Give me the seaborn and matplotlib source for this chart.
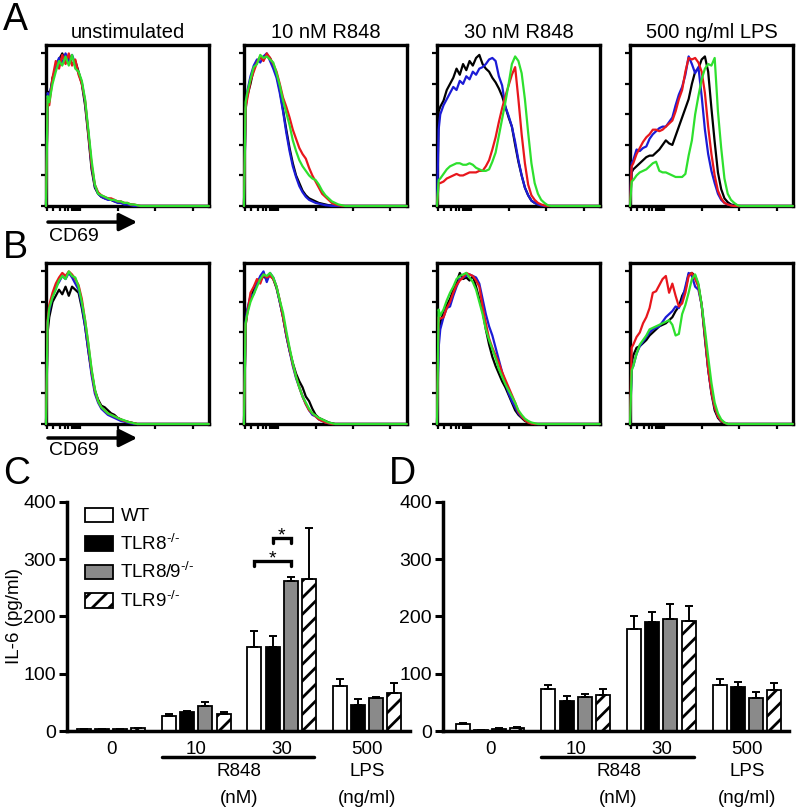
import numpy as np
import pandas as pd
import matplotlib
matplotlib.use('Agg')
import matplotlib.pyplot as plt
import matplotlib.transforms as mtransforms
import seaborn as sns

# ---------------- data ----------------
# histogram channel (0-100 = width of the plot box), values = % of max
CHANNEL = [0, 1, 2, 4, 6, 8, 10, 12, 14, 16,
           18, 20, 22, 24, 26, 28, 30, 32, 34, 36,
           38, 40, 42, 44, 46, 48, 50, 52, 54, 56,
           58, 60, 62, 64, 66, 68, 70, 100]
HIST_TITLES = ['unstimulated', '10 nM R848', '30 nM R848', '500 ng/ml LPS']
LINE_NAMES = ['black', 'blue', 'red', 'green']

# row A
a1_black = [0, 75, 70, 84, 90, 96, 100, 94, 98, 93, 95, 88, 80, 66, 46, 24, 12, 8, 6, 5,
            5, 4, 3, 3, 2, 2, 1, 1, 0.5, 0, 0, 0, 0, 0, 0, 0, 0, 0]
a1_blue = [0, 74, 72, 82, 92, 97, 94, 100, 95, 99, 93, 87, 81, 68, 48, 26, 13, 8, 6, 5,
           4, 4, 3, 2, 2, 1, 1, 0.5, 0, 0, 0, 0, 0, 0, 0, 0, 0, 0]
a1_red = [0, 70, 66, 84, 95, 90, 99, 93, 100, 92, 96, 86, 80, 69, 48, 27, 14, 9, 7, 6,
          5, 5, 4, 3, 3, 2, 2, 1, 1, 0.5, 0, 0, 0, 0, 0, 0, 0, 0]
a1_green = [0, 72, 68, 80, 88, 95, 92, 98, 92, 99, 90, 88, 82, 70, 50, 30, 14, 8, 7, 6,
            5, 4, 4, 3, 3, 2, 2, 1, 1, 0.5, 0, 0, 0, 0, 0, 0, 0, 0]

a2_black = [0, 66, 72, 80, 90, 95, 97, 96, 99, 97, 92, 86, 76, 63, 50, 38, 28, 20, 15, 10,
            7, 5, 4, 3, 2, 1.5, 1, 0.5, 0.3, 0, 0, 0, 0, 0, 0, 0, 0, 0]
a2_blue = [0, 62, 75, 85, 92, 96, 94, 98, 100, 95, 90, 84, 74, 62, 48, 36, 26, 19, 13, 9,
           6, 4, 3, 2, 1.5, 1, 0.5, 0.3, 0, 0, 0, 0, 0, 0, 0, 0, 0, 0]
a2_red = [0, 64, 70, 82, 88, 94, 98, 95, 100, 97, 93, 88, 80, 71, 65, 58, 50, 44, 38, 34,
          31, 25, 20, 16, 12, 8, 6, 4, 2, 1, 0.5, 0, 0, 0, 0, 0, 0, 0]
a2_green = [0, 68, 74, 83, 91, 93, 99, 97, 98, 96, 94, 87, 79, 69, 61, 53, 43, 36, 30, 26,
            23, 20, 18, 17, 14, 10, 7, 5, 3, 2, 1, 0.5, 0, 0, 0, 0, 0, 0]

a3_black = [0, 62, 65, 69, 76, 80, 84, 90, 86, 93, 89, 95, 92, 97, 99, 93, 90, 88, 84, 81,
            77, 72, 65, 58, 52, 40, 29, 20, 12, 7, 3.5, 2, 1, 0.3, 0, 0, 0, 0]
a3_blue = [0, 50, 60, 66, 70, 74, 78, 76, 82, 80, 85, 83, 88, 86, 90, 91, 93, 96, 97, 95,
           85, 79, 65, 59, 52, 42, 30, 20, 12, 7, 3.5, 2, 1, 0.3, 0, 0, 0, 0]
a3_red = [0, 15, 15, 16, 18, 19, 20, 21, 20, 20, 21, 22, 22, 22, 23, 23, 26, 30, 37, 45,
          55, 64, 72, 79, 86, 91, 70, 47, 28, 14, 7, 4, 2, 1, 0.3, 0, 0, 0]
a3_green = [0, 17, 18, 21, 24, 26, 27, 28, 28, 27, 27, 28, 27, 25, 24, 23, 23, 24, 29, 35,
            46, 57, 68, 80, 93, 98, 95, 87, 70, 48, 28, 15, 8, 4, 2, 0.5, 0, 0]

a4_black = [0, 22, 24, 26, 28, 30, 32, 33, 33, 35, 37, 40, 43, 41, 40, 46, 52, 58, 64, 70,
            80, 88, 90, 96, 98, 88, 64, 42, 22, 11, 5, 2.5, 1, 0.5, 0, 0, 0, 0]
a4_blue = [0, 28, 30, 37, 36, 38, 39, 44, 47, 49, 51, 52, 52, 55, 58, 66, 73, 78, 86, 98,
           93, 87, 91, 72, 50, 34, 23, 15, 8, 4, 2, 1, 0.5, 0, 0, 0, 0, 0]
a4_red = [0, 26, 28, 34, 38, 42, 45, 47, 50, 50, 49, 50, 52, 54, 56, 62, 70, 76, 88, 97,
          96, 97, 94, 88, 74, 52, 34, 20, 10, 5, 2, 1, 0.3, 0, 0, 0, 0, 0]
a4_green = [0, 16, 17, 20, 22, 23, 24, 26, 28, 29, 23, 22, 22, 21, 20, 19, 19, 19, 21, 33,
            43, 60, 72, 83, 90, 93, 92, 97, 62, 38, 18, 8, 4, 2, 0.5, 0, 0, 0]

# row B
b1_black = [0, 60, 70, 80, 84, 88, 85, 90, 84, 90, 88, 86, 76, 64, 48, 34, 22, 16, 12, 11,
            9, 7, 6, 4, 3, 2, 1.5, 1, 0.5, 0, 0, 0, 0, 0, 0, 0, 0, 0]
b1_blue = [0, 67, 74, 84, 90, 93, 97, 95, 99, 96, 92, 88, 78, 64, 48, 32, 20, 14, 10, 8,
           6, 5, 4, 3, 2, 1.5, 1, 0.5, 0, 0, 0, 0, 0, 0, 0, 0, 0, 0]
b1_red = [0, 68, 78, 86, 92, 96, 99, 97, 100, 98, 95, 91, 82, 68, 52, 35, 22, 15, 11, 9,
          7, 6, 5, 4, 3, 2, 1.5, 1, 0.5, 0, 0, 0, 0, 0, 0, 0, 0, 0]
b1_green = [0, 66, 76, 83, 88, 94, 97, 95, 100, 97, 96, 90, 80, 68, 53, 36, 23, 15, 11, 9,
            7, 6, 5, 4, 3, 2.5, 1.5, 1, 0.5, 0, 0, 0, 0, 0, 0, 0, 0, 0]

b2_black = [0, 64, 74, 82, 88, 92, 94, 97, 95, 98, 95, 89, 80, 70, 58, 48, 40, 33, 28, 24,
            18, 15, 10, 6, 4, 3, 2, 1, 0.5, 0, 0, 0, 0, 0, 0, 0, 0, 0]
b2_blue = [0, 66, 75, 84, 85, 92, 97, 100, 93, 99, 96, 90, 80, 70, 58, 48, 38, 30, 24, 18,
           13, 9, 6, 5, 3, 2, 1, 0.5, 0, 0, 0, 0, 0, 0, 0, 0, 0, 0]
b2_red = [0, 65, 72, 86, 90, 95, 92, 98, 96, 97, 95, 90, 81, 70, 59, 49, 39, 31, 24, 18,
          13, 9, 7, 5, 3, 2, 1, 0.5, 0, 0, 0, 0, 0, 0, 0, 0, 0, 0]
b2_green = [0, 66, 72, 80, 85, 90, 95, 98, 97, 99, 96, 90, 81, 73, 61, 50, 40, 31, 24, 18,
            14, 10, 7, 5.5, 4, 3, 2, 1, 0.5, 0, 0, 0, 0, 0, 0, 0, 0, 0]

b3_black = [0, 62, 66, 74, 78, 82, 88, 93, 99, 95, 96, 94, 97, 90, 82, 74, 62, 52, 44, 38,
            33, 28, 24, 19, 14, 9, 6, 4, 2, 1, 0.3, 0, 0, 0, 0, 0, 0, 0]
b3_blue = [0, 50, 62, 70, 76, 77, 84, 90, 95, 96, 97, 98, 97, 96, 92, 82, 72, 64, 58, 50,
           42, 34, 27, 20, 15, 11, 7, 4.5, 3, 1.5, 0.5, 0, 0, 0, 0, 0, 0, 0]
b3_red = [0, 70, 69, 70, 76, 80, 86, 91, 94, 96, 99, 98, 97, 94, 90, 77, 66, 56, 50, 45,
          40, 34, 29, 24, 19, 14, 8, 5, 2.5, 1, 0.3, 0, 0, 0, 0, 0, 0, 0]
b3_green = [0, 75, 71, 75, 81, 86, 90, 95, 97, 98, 99, 96, 93, 88, 80, 72, 62, 55, 49, 43,
            36, 31, 26, 22, 18, 14, 9, 6, 3.5, 2, 1, 0.5, 0, 0, 0, 0, 0, 0]

b4_black = [0, 40, 45, 50, 51, 53, 55, 58, 60, 62, 64, 65, 66, 68, 70, 74, 77, 84, 88, 98,
            99, 97, 91, 78, 56, 36, 20, 9, 4, 1.5, 0.5, 0, 0, 0, 0, 0, 0, 0]
b4_blue = [0, 36, 38, 46, 51, 54, 57, 60, 62, 63, 64, 67, 70, 72, 74, 77, 76, 81, 90, 99,
           97, 90, 88, 78, 58, 36, 21, 11, 5, 2, 0.8, 0, 0, 0, 0, 0, 0, 0]
b4_red = [0, 50, 52, 57, 60, 66, 70, 76, 86, 87, 91, 95, 97, 86, 92, 84, 77, 79, 86, 97,
          99, 95, 90, 78, 58, 36, 21, 11, 5, 2, 0.8, 0, 0, 0, 0, 0, 0, 0]
b4_green = [0, 35, 38, 46, 52, 55, 58, 62, 63, 64, 65, 66, 67, 68, 65, 58, 59, 72, 78, 86,
            95, 98, 92, 78, 62, 44, 27, 14, 7, 3, 1, 0, 0, 0, 0, 0, 0, 0]

ROW_A = [[a1_black, a1_blue, a1_red, a1_green],
         [a2_black, a2_blue, a2_red, a2_green],
         [a3_black, a3_blue, a3_red, a3_green],
         [a4_black, a4_blue, a4_red, a4_green]]
ROW_B = [[b1_black, b1_blue, b1_red, b1_green],
         [b2_black, b2_blue, b2_red, b2_green],
         [b3_black, b3_blue, b3_red, b3_green],
         [b4_black, b4_blue, b4_red, b4_green]]

# IL-6 bar charts
DOSES = ['0', '10', '30', '500']
GENOTYPES = ['WT', r'TLR8$^{\text{-/-}}$', r'TLR8/9$^{\text{-/-}}$', r'TLR9$^{\text{-/-}}$']

c_mean = {'WT': [3, 26, 146, 78], 'TLR8': [3, 33, 146, 46],
          'TLR89': [3, 44, 262, 58], 'TLR9': [5, 30, 265, 66]}
c_sem = {'WT': [1, 3, 28, 12], 'TLR8': [0.5, 2, 20, 10],
         'TLR89': [0.5, 6, 7, 2], 'TLR9': [1, 4, 90, 17]}
d_mean = {'WT': [13, 74, 178, 80], 'TLR8': [2, 53, 191, 77],
          'TLR89': [4, 60, 195, 57], 'TLR9': [6, 63, 192, 71]}
d_sem = {'WT': [0.5, 6, 22, 10], 'TLR8': [0.3, 9, 17, 9],
         'TLR89': [0.5, 4, 26, 12], 'TLR9': [0.5, 10, 26, 12]}
KEYS = ['WT', 'TLR8', 'TLR89', 'TLR9']

# significance brackets in C (dose index 2): (left genotype, right genotype, height)
SIG_C = [(0, 2, 297), (1, 2, 337)]

# ---------------- style ----------------
sns.set_style('ticks')
plt.rcParams['font.family'] = ['Liberation Sans', 'DejaVu Sans']
plt.rcParams['mathtext.fontset'] = 'custom'
plt.rcParams['mathtext.rm'] = 'Liberation Sans'
plt.rcParams['mathtext.it'] = 'Liberation Sans:italic'
plt.rcParams['hatch.linewidth'] = 2.0
plt.rcParams['axes.edgecolor'] = 'black'
plt.rcParams['xtick.color'] = 'black'
plt.rcParams['ytick.color'] = 'black'
plt.rcParams['text.color'] = 'black'
plt.rcParams['axes.labelcolor'] = 'black'

LINE_COLORS = {'black': '#000000', 'blue': '#1b1bd6', 'red': '#e8161c', 'green': '#2ee02e'}
BAR_COLORS = dict(zip(GENOTYPES, ['white', 'black', '#8a8a8a', 'white']))

fig = plt.figure(figsize=(7.96, 8.09), dpi=100)

# log-like flow axis ticks (box fraction)
HIST_XTICKS = [0.5, 4.5, 8.5, 11.5, 13.8, 15.7, 17.2, 18.6, 19.8, 21, 44, 67, 90]
lefts = [0.0578, 0.3065, 0.549, 0.7915]


def draw_hist(ax, curves):
    rows = []
    for name, vals in zip(LINE_NAMES, curves):
        assert len(vals) == len(CHANNEL), name
        rows += [{'ch': c, 'pct': v, 'line': name} for c, v in zip(CHANNEL, vals)]
    df = pd.DataFrame(rows)
    sns.lineplot(data=df, x='ch', y='pct', hue='line', hue_order=LINE_NAMES,
                 palette=LINE_COLORS, sort=False, estimator=None, legend=False,
                 lw=1.6, zorder=3, clip_on=False, ax=ax)
    ax.set_xlim(0, 100)
    ax.set_ylim(0, 105.5)
    ax.set_xticks(HIST_XTICKS)
    ax.set_yticks([0, 20, 40, 60, 80, 100])
    ax.set_xticklabels([])
    ax.set_yticklabels([])
    ax.set_xlabel('')
    ax.set_ylabel('')
    ax.tick_params(length=3.5, width=1.6, direction='out')
    for s in ax.spines.values():
        s.set_visible(True)
        s.set_linewidth(2.4)


for row, bottom in ((ROW_A, 0.7454), (ROW_B, 0.4759)):
    for i, curves in enumerate(row):
        ax = fig.add_axes([lefts[i], bottom, 0.2045, 0.199])
        draw_hist(ax, curves)
        if row is ROW_A:
            ax.set_title(HIST_TITLES[i], fontsize=14.5, pad=5)
        if i == 0:
            ay, ty = (-0.10, -0.19) if row is ROW_A else (-0.087, -0.163)
            ax.annotate('', xy=(0.56, ay), xytext=(0.012, ay), xycoords='axes fraction',
                        arrowprops=dict(arrowstyle='-|>,head_length=0.6,head_width=0.3',
                                        lw=2.5, color='black', mutation_scale=18,
                                        shrinkA=0, shrinkB=0))
            ax.text(0.018, ty, 'CD69', transform=ax.transAxes, fontsize=14,
                    ha='left', va='center')


def draw_bars(ax, means, sems, xlim, ylabel):
    rows = []
    for g, k in zip(GENOTYPES, KEYS):
        rows += [{'dose': d, 'il6': v, 'genotype': g} for d, v in zip(DOSES, means[k])]
    df = pd.DataFrame(rows)
    sns.barplot(data=df, x='dose', y='il6', hue='genotype', order=DOSES,
                hue_order=GENOTYPES, palette=BAR_COLORS, edgecolor='black',
                linewidth=1.3, width=0.85, gap=0.23, errorbar=None, legend=False, ax=ax)
    for p in ax.containers[3]:
        p.set_hatch('//')
    centers = []
    for cont, k in zip(ax.containers, KEYS):
        xs = [p.get_x() + p.get_width() / 2 for p in cont]
        hs = [p.get_height() for p in cont]
        centers.append(xs)
        ax.errorbar(xs, hs, yerr=[np.zeros(len(xs)), sems[k]], fmt='none',
                    ecolor='black', elinewidth=1.4, capsize=3, capthick=1.4, zorder=3)
    ax.set_xlim(*xlim)
    ax.set_ylim(0, 400)
    ax.set_yticks([0, 100, 200, 300, 400])
    ax.set_xlabel('')
    ax.set_ylabel(ylabel, fontsize=13.5, labelpad=0)
    ax.tick_params(axis='y', labelsize=14, length=6, width=2.2, pad=2)
    ax.tick_params(axis='x', labelsize=13.5, length=0, pad=7)
    sns.despine(ax=ax)
    ax.spines['left'].set_linewidth(2.5)
    ax.spines['bottom'].set_linewidth(2.5)
    tr = mtransforms.blended_transform_factory(ax.transData, ax.transAxes)
    ax.plot([0.6, 2.38], [-0.1135, -0.1135], color='black', lw=2.5,
            transform=tr, clip_on=False)
    ax.text(1.5, -0.176, 'R848', transform=tr, fontsize=13.5, ha='center', va='center')
    ax.text(1.5, -0.294, '(nM)', transform=tr, fontsize=13.5, ha='center', va='center')
    ax.text(3, -0.176, 'LPS', transform=tr, fontsize=13.5, ha='center', va='center')
    ax.text(3, -0.294, '(ng/ml)', transform=tr, fontsize=13.5, ha='center', va='center')
    return centers


axc = fig.add_axes([0.0842, 0.0964, 0.4309, 0.2831])
cent = draw_bars(axc, c_mean, c_sem, (-0.516, 3.505), 'IL-6 (pg/ml)')
for a, b, h in SIG_C:
    xa, xb = cent[a][2], cent[b][2]
    axc.plot([xa, xa, xb, xb], [h - 8, h, h, h - 8], color='black', lw=2.4,
             solid_joinstyle='miter')
    axc.text((xa + xb) / 2, h - 4, '*', fontsize=14, ha='center', va='baseline')
axc.legend(axc.containers, GENOTYPES, loc='upper left', bbox_to_anchor=(0.052, 0.975),
           frameon=False, fontsize=13.5, handlelength=1.5, handleheight=0.8,
           handletextpad=0.4, labelspacing=0.45, borderpad=0, borderaxespad=0)

axd = fig.add_axes([0.5565, 0.0964, 0.4347, 0.2831])
draw_bars(axd, d_mean, d_sem, (-0.55, 3.49), '')

# panel letters
for lab, x, y in (('A', 0.004, 0.975), ('B', 0.004, 0.694), ('C', 0.004, 0.414),
                  ('D', 0.488, 0.414)):
    fig.text(x, y, lab, fontsize=27, ha='left', va='center')

fig.savefig('out.png', dpi=100)
